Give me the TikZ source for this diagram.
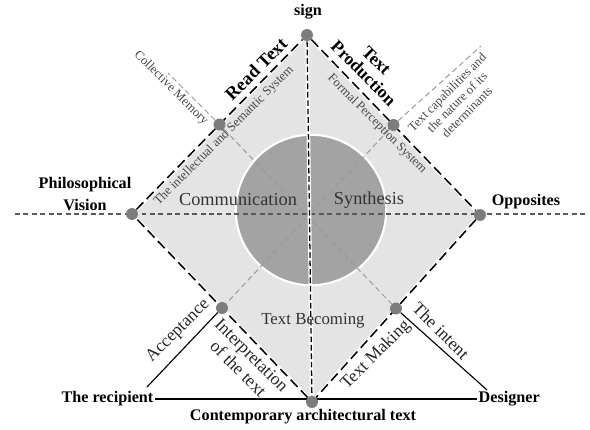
\documentclass[tikz,border=0pt]{standalone}
\usepackage{fontspec}
\setmainfont{Liberation Serif}
\usetikzlibrary{positioning, calc, backgrounds}
\definecolor{diafill}{RGB}{228, 228, 228}
\definecolor{corefill}{RGB}{163, 163, 163}
\definecolor{dotgray}{RGB}{125, 125, 125}
\definecolor{inkgray}{RGB}{70, 70, 70}
\tikzset{
  vdot/.style={circle, fill=dotgray, inner sep=0pt, minimum size=8.5pt},
  coredisc/.style={circle, fill=corefill, draw=white, line width=1.5pt,
                   minimum size=107pt, inner sep=0pt},
  pole/.style={font=\fontsize{11.5}{15}\selectfont\bfseries, align=center, inner sep=1pt},
  edgehead/.style={font=\fontsize{#1}{13}\selectfont\bfseries, align=center, inner sep=0pt},
  edgehead/.default=12.5,
  note/.style={font=\fontsize{9}{10}\selectfont, text=inkgray, align=center, inner sep=0pt},
  branch/.style={font=\fontsize{#1}{13.5}\selectfont, text=black!85, align=center, inner sep=0pt},
  branch/.default=12.5,
  zone/.style={font=\fontsize{#1}{14}\selectfont, text=black!80, inner sep=0pt},
  zone/.default=13,
  rim/.style={line width=1.1pt, dash pattern=on 7pt off 3.5pt,
              preaction={draw=white, line width=2.6pt, solid}},
  spine/.style={line width=0.9pt, dash pattern=on 4pt off 2pt,
                preaction={draw=white, line width=2.6pt, solid}},
  axisline/.style={black!65, line width=1pt, dash pattern=on 3.5pt off 2.5pt},
  crossline/.style={black!40, line width=0.7pt, dash pattern=on 4pt off 2.5pt},
  thinrule/.style={line width=0.8pt},
  baserule/.style={line width=1.9pt},
}

\begin{document}
\begin{tikzpicture}[x=0.025cm, y=-0.025cm]
  \useasboundingbox (0,0) rectangle (590,429);

  % corners and edge midpoints
  \node[vdot] (ntop) at (307,35) {};
  \node[vdot] (nleft) at (132,214) {};
  \node[vdot] (nright) at (480,215) {};
  \node[vdot] (nbot) at (312,402) {};
  \node[vdot] (mUL) at ($(ntop)!.5!(nleft)$) {};
  \node[vdot] (mUR) at ($(ntop)!.5!(nright)$) {};
  \node[vdot] (mLL) at ($(nbot)!.5!(nleft)$) {};
  \node[vdot] (mLR) at ($(nbot)!.5!(nright)$) {};

  \coordinate (hwest) at (15,214);
  \coordinate (heast) at (585,214);
  \coordinate (cMem) at (168,73);
  \coordinate (cCap) at (481,46);
  \coordinate (cAcc) at (147,387);
  \coordinate (cInt) at (487,390);

  % outer labels
  \node[pole] (sign) at (308,12) {sign};
  \node[pole] (philo) at (85,194) {Philosophical\\Vision};
  \node[pole] (opp) at (526,202) {Opposites};
  \node[pole, anchor=east] (recipient) at (155,399) {The recipient};
  \node[pole, anchor=west] (designer) at (477,399) {Designer};
  \node[pole] (context) at (303,417) {Contemporary architectural text};

  \node[edgehead=13, rotate=45] (readtxt) at (256,69) {Read Text};
  \node[edgehead, rotate=-45] (prodtxt) at (370,67) {Text\\Production};

  \node[note, rotate=45] (semsys) at (224,136) {The intellectual and Semantic System};
  \node[note, rotate=-45] (formsys) at (377,124) {Formal Perception System};
  \node[note, rotate=-45] (memory) at (171,88) {Collective Memory};
  \node[note, rotate=45] (capab) at (457,102) {Text capabilities and\\the nature of its\\determinants};

  \node[branch, rotate=45] (accept) at (178,331) {Acceptance};
  \node[branch, rotate=-45] (interp) at (245,362) {Interpretation\\of the text};
  \node[branch, rotate=-45] (intent) at (441,331) {The intent};
  \node[branch, rotate=45] (making) at (376,355) {Text Making};

  \begin{scope}[on background layer]
    \fill[diafill] (ntop.center) -- (nright.center) -- (nbot.center) -- (nleft.center) -- cycle;
    \node[coredisc] (core) at (311,210) {};
    \draw[axisline] (hwest) -- (heast);
    \draw[crossline] (mUL) -- (mLR);
    \draw[crossline] (mUR) -- (mLL);
    \draw[crossline] (mUL) -- (cMem);
    \draw[crossline] (mUR) -- (cCap);
    \draw[thinrule] (mLL) -- (cAcc);
    \draw[thinrule] (mLR) -- (cInt);
    \draw[spine] (ntop) -- (nbot);
    \draw[rim] (ntop) -- (nright) -- (nbot) -- (nleft) -- (ntop);
    \draw[baserule] (recipient.east) -- (designer.west);
  \end{scope}

  % texts on the disc
  \node[zone] (commun) at (238,200) {Communication};
  \node[zone] (synth) at (369,200) {Synthesis};
  \node[zone=12] (becoming) at (313,321) {Text Becoming};
\end{tikzpicture}
\end{document}
